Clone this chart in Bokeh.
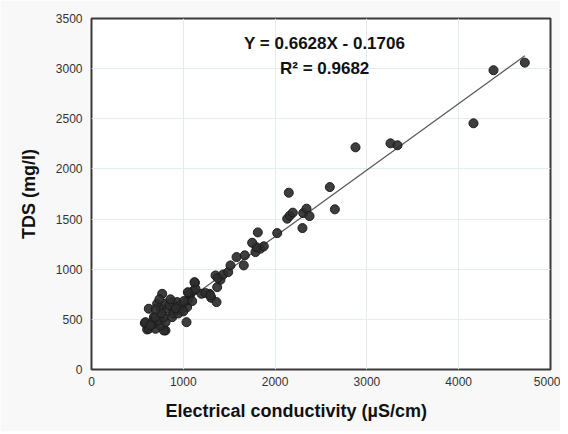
from bokeh.plotting import figure
from bokeh.models import Range1d, FixedTicker, Label, Title
from bokeh.embed import file_html
from bokeh.resources import INLINE

# Electrical conductivity (µS/cm) and TDS (mg/l)
ec = [581, 606, 624, 679, 770, 806, 1035, 624, 697, 788, 679, 752, 588, 661, 733, 806,
      697, 788, 879, 752, 824, 896, 988, 1042, 715, 806, 879, 933, 970, 893, 948, 1071,
      1049, 1097, 1005, 1060, 1126, 1114, 1198, 1285, 1304, 1362, 1351, 1369, 1242, 1296,
      1049, 1133, 1122, 740, 850, 920, 1000, 760, 640, 860, 700,
      1405, 1376, 1435, 1489, 1514, 1580, 1659, 1670, 1786, 1841, 1877, 1797, 1750, 1812,
      2023, 2132, 2160, 2193, 2149, 2298, 2306, 2342, 2375, 2596, 2651, 2876, 3257, 3333,
      4161, 4379, 4720]
tds = [462, 399, 606, 522, 755, 389, 472, 406, 406, 389, 456, 439, 472, 472, 489, 472,
       522, 522, 522, 606, 606, 589, 606, 622, 656, 656, 672, 672, 639, 559, 559, 738,
       689, 682, 682, 762, 865, 788, 755, 755, 715, 672, 938, 821, 762, 739,
       771, 805, 871, 700, 640, 610, 580, 560, 440, 700, 600,
       895, 911, 948, 971, 1038, 1121, 1038, 1138, 1171, 1205, 1228, 1220, 1264, 1367,
       1360, 1504, 1534, 1564, 1763, 1410, 1560, 1604, 1530, 1819, 1597, 2215, 2255, 2236,
       2455, 2984, 3060]

slope = 0.6628
intercept = -0.1706
x_ticks = [0, 1000, 2000, 3000, 4000, 5000]
y_ticks = [0, 500, 1000, 1500, 2000, 2500, 3000, 3500]

p = figure(width=560, height=431, output_backend="svg", toolbar_location=None,
           x_range=Range1d(0, 5000), y_range=Range1d(0, 3500),
           min_border_left=91, min_border_right=10, min_border_top=18, min_border_bottom=62)
p.background_fill_color = "white"
p.border_fill_color = "#f8f8f8"
p.outline_line_color = "#3a3a3a"
p.outline_line_width = 2

p.xgrid.grid_line_color = "#e3ecee"
p.ygrid.grid_line_color = "#e3ecee"

for ax in (p.xaxis, p.yaxis):
    ax.axis_line_color = None
    ax.major_tick_line_color = None
    ax.minor_tick_line_color = None
    ax.major_tick_out = 0
    ax.major_tick_in = 0
    ax.minor_tick_out = 0
    ax.major_label_text_font = "Liberation Sans"
    ax.major_label_text_font_size = "12px"
    ax.major_label_text_color = "#333333"
    ax.axis_label_text_font = "Liberation Sans"
    ax.axis_label_text_font_size = "18px"
    ax.axis_label_text_font_style = "bold"
    ax.axis_label_text_color = "#111111"

p.xaxis.ticker = FixedTicker(ticks=x_ticks)
p.yaxis.ticker = FixedTicker(ticks=y_ticks)
p.xaxis.major_label_standoff = 7
p.yaxis.major_label_standoff = 9
p.yaxis.axis_label = "TDS (mg/l)"
p.yaxis.axis_label_standoff = 14

xl = [min(ec), max(ec)]
yl = [slope * v + intercept for v in xl]
p.line(xl, yl, line_color="#555555", line_width=1.2)

p.scatter(ec, tds, size=9, fill_color="#2e2e2e", line_color="#1c1c1c", fill_alpha=0.92)

p.add_layout(Label(x=2540, y=3253, text="Y = 0.6628X - 0.1706", text_align="center",
                   text_baseline="middle", text_font="Liberation Sans", text_font_size="17px",
                   text_font_style="bold", text_color="#111111"))
p.add_layout(Label(x=2540, y=3004, text="R² = 0.9682", text_align="center",
                   text_baseline="middle", text_font="Liberation Sans", text_font_size="17px",
                   text_font_style="bold", text_color="#111111"))
p.add_layout(Title(text="Electrical conductivity (µS/cm)", align="left", offset=74,
                   standoff=21, text_font="Liberation Sans", text_font_size="18px",
                   text_font_style="bold", text_color="#111111"), "below")

open("out.html", "w").write(file_html(p, INLINE))
